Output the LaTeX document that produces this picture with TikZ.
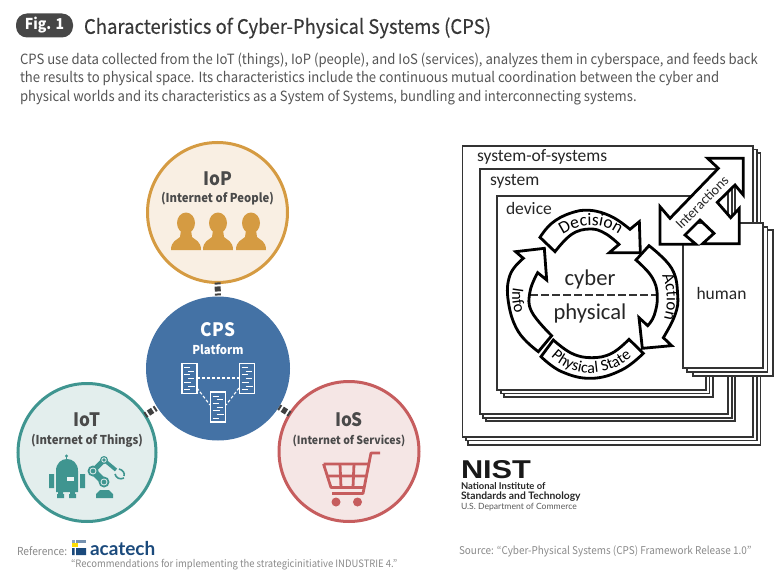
\documentclass[tikz,border=0pt]{standalone}
\usepackage{fontspec}
\usepackage{graphicx}
\usetikzlibrary{decorations.text}
\setmainfont[FakeStretch=0.93]{Noto Sans CJK KR}
\newfontfamily\titlefont[FakeStretch=0.93,FakeBold=0.25]{Noto Sans CJK KR}
\newfontfamily\carl{Carlito}
\newfontfamily\latofont{Lato}
\newfontfamily\libs{Liberation Sans}
\newcommand\fsz[1]{\fontsize{#1}{#1}\selectfont}
\definecolor{txt}{HTML}{4A4A4A}
\definecolor{body}{HTML}{555555}
\definecolor{foot}{HTML}{8A8A8A}
\definecolor{iopc}{HTML}{D59B42}
\definecolor{iopf}{HTML}{F9EFE3}
\definecolor{cpsc}{HTML}{4472A5}
\definecolor{iotc}{HTML}{3F9590}
\definecolor{iotf}{HTML}{E3EEED}
\definecolor{iosc}{HTML}{C65D5E}
\definecolor{iosf}{HTML}{F5E6E5}
\definecolor{acab}{HTML}{1B4A7C}
\tikzset{
 every node/.style={inner sep=0pt,outer sep=0pt},
 bigcirc/.style={circle,draw,line width=3pt,minimum size=#1},
 link/.style={draw=black!75,line width=6pt,dash pattern=on 2pt off 2pt on 5pt off 2pt on 2pt},
 head/.style={font=\bfseries\fsz{18.5},text=txt},
 sub/.style={font=\bfseries\fsz{12.2},text=txt},
 stackbox/.style={draw=black!80,fill=white,line width=1.1pt},
 cyc/.style={draw=black,fill=white,line width=2.8pt,line join=miter},
 lab/.style={font=\carl\fsz{17.5},text=black!85},
 srv/.style={draw=white,line width=1.2pt},
 srvbar/.style={draw=white,line width=1pt},
 srvlink/.style={draw=white,line width=1.1pt,dash pattern=on 3pt off 2pt},
}
\newcommand\person[1]{%
 \fill[iopc] (#1,223) ellipse (9 and 10.5);
 \fill[iopc] (#1-15,250) .. controls (#1-15,241) and (#1-9,240) .. (#1-6,237) -- (#1-5,230) -- (#1+5,230) -- (#1+6,237) .. controls (#1+9,240) and (#1+15,241) .. (#1+15,250) -- cycle;}
\newcommand\server[2]{%
 \draw[srv] (#1,#2) rectangle ++(15,30);
 \foreach \k/\a/\b in {0/2/8,1/6/12,2/2/8,3/6/12,4/2/9,5/6/13,6/2/8}
  \draw[srvbar] (#1+\a,#2+4+\k*3.7) -- (#1+\b,#2+4+\k*3.7);}
\begin{document}
\begin{tikzpicture}[x=1pt,y=-1pt]
\useasboundingbox (0,0) rectangle (780,578);
% header
\node[name=badge,fill=black!72,rounded corners=11pt,minimum width=57pt,minimum height=24pt,text=white,font=\bfseries\fsz{15}] at (44.5,25.5) {Fig. 1};
\node[name=title,anchor=west,text=black!78,font=\titlefont\fsz{19.9}] at (84,28) {Characteristics of Cyber-Physical Systems (CPS)};
\node[name=l1,anchor=west,text=body,font=\fsz{14.1}] at (20,60) {CPS use data collected from the IoT (things), IoP (people), and IoS (services), analyzes them in cyberspace, and feeds back};
\node[name=l2,anchor=west,text=body,font=\fsz{14.1}] at (20,79) {the results to physical space. Its characteristics include the continuous mutual coordination between the cyber and};
\node[name=l3,anchor=west,text=body,font=\fsz{14.1}] at (20,98) {physical worlds and its characteristics as a System of Systems, bundling and interconnecting systems.};
% circles
\node[name=iop,bigcirc=140pt,draw=iopc,fill=iopf] at (217.5,212.5) {};
\node[name=cps,circle,fill=cpsc,minimum size=144pt] at (218,368.5) {};
\node[name=iot,bigcirc=138pt,draw=iotc,fill=iotf] at (87,452.5) {};
\node[name=ios,bigcirc=140pt,draw=iosc,fill=iosf] at (349,451.5) {};
\draw[link] (iop) -- (cps);
\draw[link] (iot) -- (cps);
\draw[link] (ios) -- (cps);
\node[name=t1,head] at (217.5,179) {IoP};
\node[name=t2,sub] at (217.5,199) {(Internet of People)};
\person{186}\person{218}\person{251}
\node[name=t3,head,text=white] at (218,330) {CPS};
\node[name=t4,sub,text=white] at (218,350) {Platform};
\draw[srvlink] (197,378) -- (239,378);
\draw[srvlink] (197,388) -- (210,405);
\draw[srvlink] (239,388) -- (226,405);
\server{182}{363.5}\server{239.5}{363.5}\server{210.5}{392}
\node[name=t5,head] at (87,420) {IoT};
\node[name=t6,sub] at (87,441) {(Internet of Things)};
\node[name=t7,head] at (349,420) {IoS};
\node[name=t8,sub,font=\bfseries\fsz{11.3}] at (349,441) {(Internet of Services)};
% robot
\fill[iotc] (66.5,456) circle (1.6);
\draw[iotc,line width=1pt] (66.5,456) -- (66.5,461);
\fill[iotc] (56,492) -- (56,471) .. controls (56,455) and (78,455) .. (78,471) -- (78,492) -- cycle;
\fill[white!90!iotc] (67,477) rectangle (74,481);
\fill[iotc] (49,474) rectangle (54,488) (80,474) rectangle (85,488);
\fill[iotc] (57,494) rectangle (64,498) (69,494) rectangle (76,498);
\fill[iotc] (58,490) rectangle (63,494) (70,490) rectangle (75,494);
% arm
\fill[iotc] (96,498) -- (96,494) -- (100,490) -- (109,490) -- (113,494) -- (113,498) -- cycle;
\draw[iotc,line width=7pt] (104,482) -- (93,471);
\draw[iotc,line width=5pt] (93,471) -- (104,460);
\draw[iotc,line width=3.5pt] (104,460) -- (116,470);
\foreach \p/\r in {{(104,482)}/5.5,{(93,471)}/5.5,{(104,460)}/4}{
 \fill[iotc] \p circle (\r);
 \draw[iotf,line width=.8pt] \p circle (\r*.55);}
\draw[iotc,line width=1.6pt] (119,469) .. controls (123,470) and (125,473) .. (124,476) (115,474) .. controls (116,478) and (120,480) .. (124,478);
% cart
\draw[iosc,line width=2.8pt,line join=round] (380,453) -- (371,453) -- (363,493.5) -- (332,493.5);
\draw[iosc,line width=2.8pt,line join=round] (323.5,464) -- (369,464) (326,476) -- (367,476) (323.5,464) -- (331,487.5) -- (365,487.5);
\draw[iosc,line width=2.8pt] (340,464) -- (341,487.5) (354,464) -- (353,487.5);
\fill[iosc] (336,502) circle (4.5) (357.5,502) circle (4.5);
% stacks
\draw[stackbox] (468,153) rectangle (760.5,445);
\draw[stackbox] (466,149.5) rectangle (757,440.5);
\draw[stackbox] (462.5,146) rectangle (753,437);
\draw[stackbox] (486,175) rectangle (735,421);
\draw[stackbox] (483,172) rectangle (732,418);
\draw[stackbox] (480,169) rectangle (728,414);
\draw[stackbox] (504,203) rectangle (713,397);
\draw[stackbox] (501,200) rectangle (709.5,393.5);
\draw[stackbox] (497,196) rectangle (706,390);
\draw[stackbox] (693,230) rectangle (773,376);
\draw[stackbox] (687,227) rectangle (767.5,372);
\draw[stackbox] (683,223) rectangle (763,368);
\node[name=sos,lab,anchor=west] at (477,157) {system-of-systems};
\node[name=sys,lab,anchor=west] at (490,181) {system};
\node[name=dev,lab,anchor=west] at (506,208) {device};
\node[name=hum,lab] at (721.5,293) {human};
\node[name=cy,font=\carl\fsz{22.6},text=black!85] at (590,279) {cyber};
\node[name=ph,font=\carl\fsz{22.6},text=black!85] at (590,313) {physical};
\coordinate (dl) at (530,295);
\coordinate (dr) at (657,295);
\draw[black!80,line width=1.1pt,dash pattern=on 8pt off 3pt] (dl) -- (dr);
% cycle arrows
\begin{scope}[shift={(495,205)},x=0.33333pt,y=-0.33333pt]
\draw[cyc] (135,97) -- plot[smooth,tension=.7] coordinates {(135,97) (170,55) (225,25) (285,16) (350,35) (405,73)} -- (433,50) -- (436,143) -- (343,143) -- (372,118) -- plot[smooth,tension=.7] coordinates {(372,118) (330,85) (285,72) (230,88) (180,140)} -- cycle;
\draw[cyc] (462,122) -- plot[smooth,tension=.7] coordinates {(462,122) (530,190) (548,270) (540,330) (505,398)} -- (530,422) -- (442,430) -- (432,338) -- (458,362) -- plot[smooth,tension=.7] coordinates {(458,362) (478,330) (487,270) (470,215) (423,165)} -- cycle;
\draw[cyc] (138,455) -- plot[smooth,tension=.7] coordinates {(138,455) (200,500) (290,520) (380,495) (445,445)} -- (402,403) -- plot[smooth,tension=.7] coordinates {(402,403) (350,445) (290,458) (230,445) (175,405)} -- cycle;
\draw[cyc] (130,440) -- plot[smooth,tension=.7] coordinates {(130,440) (70,380) (40,290) (45,210) (85,160)} -- (62,140) -- (148,130) -- (155,225) -- (128,203) -- plot[smooth,tension=.7] coordinates {(128,203) (105,260) (110,320) (170,392)} -- cycle;
\path[decorate,decoration={text along path,text align=center,text={|\carl\fsz{17.5}|Decision}}] (180,110) .. controls (235,45) and (340,45) .. (395,110);
\path[decorate,decoration={text along path,text align=center,text={|\carl\fsz{17}|Action}}] (488,190) .. controls (523,240) and (523,310) .. (498,365);
\path[decorate,decoration={text along path,text align=center,text={|\carl\fsz{16.5}|Info}}] (60,225) .. controls (46,270) and (50,310) .. (73,345);
\path[decorate,decoration={text along path,text align=center,text={|\carl\fsz{16}|Physical State}}] (150,435) .. controls (220,527) and (350,527) .. (430,435);
\end{scope}
\begin{scope}[shift={(640,150)},x=0.33333pt,y=-0.33333pt]
\draw[cyc] (310,25) -- (203,25) -- (235,55) -- (90,205) -- (60,170) -- (60,283) -- (168,283) -- (135,255) -- (180,210) -- (222,250) -- (188,281) -- (298,281) -- (298,175) -- (272,203) -- (232,157) -- (285,105) -- (310,135) -- cycle;
\node[name=inter,font=\carl\fsz{14.2},text=black!85,rotate=45] at (186,157) {Interactions};
\end{scope}
% NIST
\node[name=nist,anchor=west,text=black!90] at (461,470) {\resizebox{70pt}{18pt}{\libs\bfseries NIST}};
\node[name=n1,anchor=west,font=\latofont\bfseries\fsz{9.4},text=black!85] at (461,486.5) {National Institute of};
\node[name=n2,anchor=west,font=\latofont\bfseries\fsz{10.3},text=black!85] at (461,497) {Standards and Technology};
\node[name=n3,anchor=west,font=\latofont\fsz{8.6},text=black!65] at (461,507.5) {U.S. Department of Commerce};
% footer
\node[name=ref,anchor=west,text=foot,font=\fsz{11}] at (17,551) {Reference:};
\fill[acab] (76,548) rectangle (86,555) (72,548) rectangle (74.5,555);
\fill[acab!60] (76,540) rectangle (86,543);
\fill[yellow!80!orange] (72,543) rectangle (78,547);
\fill[acab!50] (72,540) rectangle (75,543);
\node[name=aca,anchor=west,text=acab,font=\latofont\bfseries\fsz{19}] at (90,549) {acatech};
\node[name=quote,anchor=west,text=foot,font=\fsz{10.2}] at (71,565) {“Recommendations for implementing the strategicinitiative INDUSTRIE 4.”};
\node[name=src,anchor=west,text=foot,font=\fsz{10.7}] at (459,551) {Source: “Cyber-Physical Systems (CPS) Framework Release 1.0”};
\end{tikzpicture}
\end{document}
